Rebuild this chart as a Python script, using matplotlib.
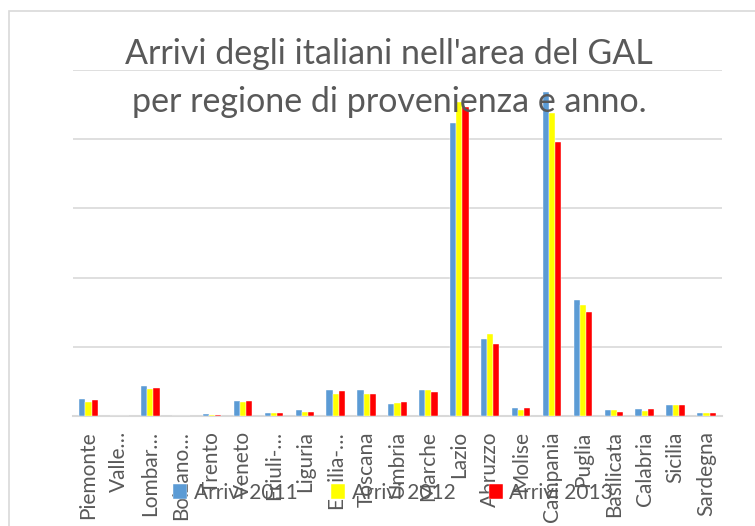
import numpy as np
import matplotlib.pyplot as plt
from matplotlib.patches import Rectangle

# dati (scala: 1 = una linea di griglia)
regioni = ["Piemonte", "Valle…", "Lombar…", "Bolzano…", "Trento", "Veneto",
           "Friuli-…", "Liguria", "Emilia-…", "Toscana", "Umbria", "Marche",
           "Lazio", "Abruzzo", "Molise", "Campania", "Puglia", "Basilicata",
           "Calabria", "Sicilia", "Sardegna"]
arrivi_2011 = [0.245, 0, 0.44, 0.005, 0.03, 0.21, 0.05, 0.08, 0.37, 0.38, 0.17,
               0.37, 4.23, 1.11, 0.115, 4.68, 1.68, 0.08, 0.10, 0.16, 0.05]
arrivi_2012 = [0.20, 0, 0.39, 0.005, 0.02, 0.20, 0.04, 0.055, 0.32, 0.32, 0.195,
               0.37, 4.54, 1.185, 0.085, 4.38, 1.60, 0.08, 0.07, 0.16, 0.04]
arrivi_2013 = [0.235, 0, 0.40, 0.005, 0.02, 0.21, 0.04, 0.055, 0.36, 0.32, 0.20,
               0.35, 4.47, 1.045, 0.11, 3.96, 1.50, 0.06, 0.10, 0.16, 0.04]
serie = ["Arrivi 2011", "Arrivi 2012", "Arrivi 2013"]
colori = ["#5B9BD5", "#FFFF00", "#FF0000"]

plt.rcParams['font.family'] = ['Lato', 'DejaVu Sans']
grigio = "#595959"

fig = plt.figure(figsize=(7.55, 5.26), dpi=100)

# cornice del grafico
fig.patches.append(Rectangle((8.5 / 755, -0.1), 1.2, 1 - 10.5 / 526 + 0.1,
                             transform=fig.transFigure, fill=False,
                             edgecolor="#D9D9D9", linewidth=1.2))

ax = fig.add_axes([73 / 755, 110 / 526, 649 / 755, 346 / 526])

x = np.arange(len(regioni))
w = 0.2
for i, (vals, nome, col) in enumerate(zip([arrivi_2011, arrivi_2012, arrivi_2013], serie, colori)):
    ax.bar(x + (i - 1) * w, vals, width=w, color=col, label=nome,
           edgecolor="white", linewidth=0.3, zorder=3)

ax.set_xlim(-0.5, len(regioni) - 0.5)
ax.set_ylim(0, 5)
ax.set_yticks(range(6))
ax.set_yticklabels([])
ax.tick_params(axis="y", length=0)
ax.grid(axis="y", color="#D9D9D9", linewidth=1.2, zorder=0)
for s in ["left", "right", "top"]:
    ax.spines[s].set_visible(False)
ax.spines["bottom"].set_color("#D9D9D9")
ax.spines["bottom"].set_linewidth(1.5)

ax.set_xticks(x)
ax.set_xticklabels(regioni, rotation=90, fontsize=15, color=grigio)
ax.tick_params(axis="x", length=0, pad=11)

fig.text(389 / 755, 1 - 78 / 526, "Arrivi degli italiani nell'area del GAL\nper regione di provenienza e anno.",
         ha="center", va="center", fontsize=24.5, color=grigio, linespacing=1.65)

ax.legend(loc="center", bbox_to_anchor=(393 / 755, 1 - 493 / 526),
          bbox_transform=fig.transFigure, ncol=3, frameon=False,
          fontsize=15, labelcolor=grigio, handlelength=0.7, handleheight=0.7,
          handletextpad=0.3, columnspacing=1.6)

fig.savefig("out.png", dpi=100)
